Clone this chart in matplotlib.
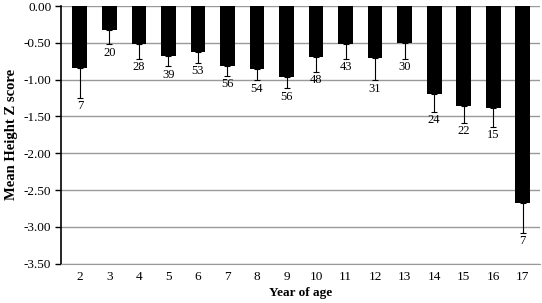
import matplotlib
matplotlib.use("Agg")
import matplotlib.pyplot as plt
import numpy as np

plt.rcParams['font.family'] = ['Liberation Serif', 'DejaVu Serif']

ages = ['2', '3', '4', '5', '6', '7', '8', '9', '10', '11', '12', '13', '14', '15', '16', '17']
mean_z = [-0.84, -0.32, -0.52, -0.68, -0.63, -0.81, -0.85, -0.96, -0.69, -0.52,
          -0.70, -0.50, -1.20, -1.36, -1.39, -2.68]
err_low = [0.41, 0.20, 0.20, 0.14, 0.14, 0.14, 0.16, 0.16, 0.20, 0.20,
           0.31, 0.22, 0.24, 0.23, 0.25, 0.40]
n_counts = [7, 20, 28, 39, 53, 56, 54, 56, 48, 43, 31, 30, 24, 22, 15, 7]

fig = plt.figure(figsize=(5.42, 3.03), dpi=100)
ax = fig.add_axes([0.1125, 0.130, 0.884, 0.850])

x = np.arange(len(ages))
ax.bar(x, mean_z, width=0.5, color='black', zorder=3)
ax.errorbar(x, mean_z, yerr=[err_low, np.zeros(len(x))], fmt='none',
            ecolor='black', elinewidth=0.8, capsize=2, capthick=0.8, zorder=4)

for xi, m, e, n in zip(x, mean_z, err_low, n_counts):
    ax.text(xi, m - e - 0.03, str(n), ha='center', va='top', fontsize=9)

ax.set_ylim(-3.5, 0)
ax.set_xlim(-0.64, 15.59)
yt = np.arange(-3.5, 0.01, 0.5)
ax.set_yticks(yt)
ax.set_yticklabels([f"{v:.2f}" for v in yt])
ax.set_xticks(x)
ax.set_xticklabels(ages)
ax.yaxis.grid(True, color='#999999', linewidth=1.0, zorder=0)
ax.tick_params(axis='x', length=0, labelsize=9.5, pad=5)
ax.tick_params(axis='y', length=4, width=1, labelsize=9.5, pad=3)

for s in ['top', 'right']:
    ax.spines[s].set_visible(False)
ax.spines['bottom'].set_color('#999999')
ax.spines['left'].set_linewidth(1.2)

ax.set_xlabel('Year of age', fontweight='bold', fontsize=9.5, labelpad=3)
ax.set_ylabel('Mean Height Z score', fontweight='bold', fontsize=10.5, labelpad=4)

fig.savefig('out.png', dpi=100)
